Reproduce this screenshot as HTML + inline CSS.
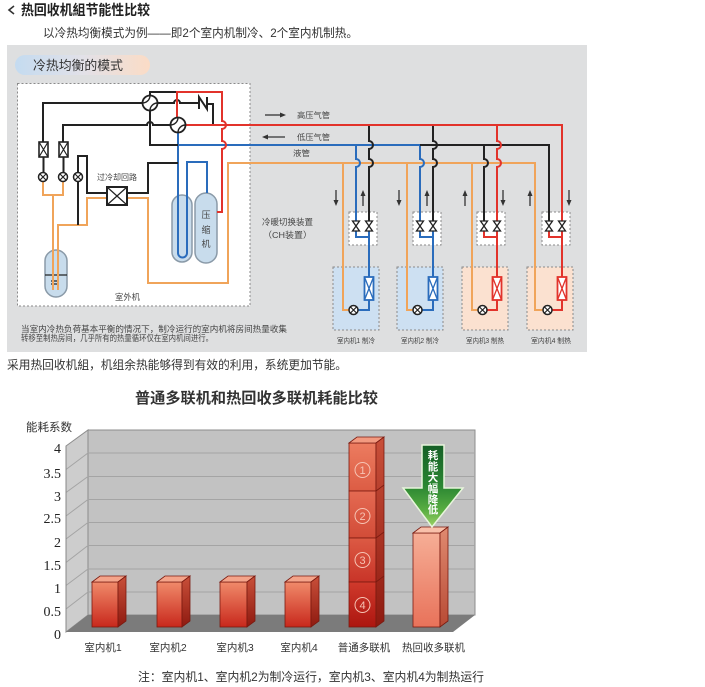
<!DOCTYPE html>
<html><head><meta charset="utf-8">
<style>
html,body{margin:0;padding:0;background:#fff;}
svg{display:block;}
text{font-family:"Liberation Sans","Noto Sans CJK SC",sans-serif;}
.serif text{font-family:"Liberation Serif","Noto Serif CJK SC",serif;}
</style></head><body>
<svg width="705" height="687" viewBox="0 0 705 687" xmlns="http://www.w3.org/2000/svg">
<defs>
 <linearGradient id="pill" x1="0" x2="1" y1="0" y2="0"><stop offset="0" stop-color="#c4dbf0"/><stop offset="0.5" stop-color="#e2e1e8"/><stop offset="1" stop-color="#fbdcc6"/></linearGradient>
 <linearGradient id="bf" x1="0" x2="0" y1="0" y2="1"><stop offset="0" stop-color="#f08a6a"/><stop offset="1" stop-color="#c8281c"/></linearGradient>
 <linearGradient id="bs" x1="0" x2="0" y1="0" y2="1"><stop offset="0" stop-color="#c9503a"/><stop offset="1" stop-color="#8e1a10"/></linearGradient>
 <linearGradient id="hf" x1="0" x2="0" y1="0" y2="1"><stop offset="0" stop-color="#f6ae96"/><stop offset="1" stop-color="#e8725a"/></linearGradient>
 <linearGradient id="hs" x1="0" x2="0" y1="0" y2="1"><stop offset="0" stop-color="#e08a70"/><stop offset="1" stop-color="#b84a34"/></linearGradient>
 <linearGradient id="s1" x1="0" x2="0" y1="0" y2="1"><stop offset="0" stop-color="#ec7c60"/><stop offset="1" stop-color="#dc5c44"/></linearGradient>
 <linearGradient id="s2" x1="0" x2="0" y1="0" y2="1"><stop offset="0" stop-color="#e46a52"/><stop offset="1" stop-color="#d24c38"/></linearGradient>
 <linearGradient id="s3" x1="0" x2="0" y1="0" y2="1"><stop offset="0" stop-color="#dc5a44"/><stop offset="1" stop-color="#c83428"/></linearGradient>
 <linearGradient id="s4" x1="0" x2="0" y1="0" y2="1"><stop offset="0" stop-color="#d03a2c"/><stop offset="1" stop-color="#ac1610"/></linearGradient>
 <linearGradient id="gr" x1="0" x2="0" y1="0" y2="1"><stop offset="0" stop-color="#155f26"/><stop offset="0.5" stop-color="#2a8632"/><stop offset="0.8" stop-color="#5aae42"/><stop offset="1" stop-color="#9cd266"/></linearGradient>
</defs>

<!-- header -->
<polyline points="14,6 9,10 14,14" fill="none" stroke="#333" stroke-width="1.6"/>
<text x="21" y="15" font-size="14" font-weight="bold" fill="#222" textLength="129" lengthAdjust="spacingAndGlyphs">热回收机組节能性比较</text>
<text x="43" y="37" font-size="12" fill="#333" textLength="315" lengthAdjust="spacingAndGlyphs">以冷热均衡模式为例——即2个室内机制冷、2个室内机制热。</text>

<!-- diagram background -->
<rect x="7" y="45" width="580" height="307" fill="#dedfe0"/>
<rect x="15" y="55" width="135" height="20" rx="10" fill="url(#pill)"/>
<text x="33" y="70" font-size="13" fill="#333" textLength="90" lengthAdjust="spacingAndGlyphs">冷热均衡的模式</text>

<rect x="17.5" y="83.5" width="232.5" height="222.5" fill="#fff" stroke="#8a8a8a" stroke-width="1" stroke-dasharray="2,2"/>

<!-- indoor boxes -->
<g stroke="#8a8a8a" stroke-width="1" stroke-dasharray="2,2">
 <rect x="333" y="267" width="46" height="63" fill="#cde0f2"/>
 <rect x="397" y="267" width="46" height="63" fill="#cde0f2"/>
 <rect x="462" y="267" width="46" height="63" fill="#fbe1d0"/>
 <rect x="527" y="267" width="46" height="63" fill="#fbe1d0"/>
 <rect x="349" y="212" width="28" height="33" fill="#fff"/>
 <rect x="413" y="212" width="28" height="33" fill="#fff"/>
 <rect x="477" y="212" width="28" height="33" fill="#fff"/>
 <rect x="542" y="212" width="28" height="33" fill="#fff"/>
</g>

<!-- tanks -->
<g fill="#c8dcec" stroke="#8a9aa8" stroke-width="1.5">
 <rect x="45" y="250" width="22" height="47" rx="11"/>
 <rect x="172" y="195" width="20" height="67" rx="10"/>
 <rect x="195" y="193" width="22" height="70" rx="11"/>
</g>
<path d="M45,275 H67 M51,281 H57 M51,284 H57" stroke="#222" stroke-width="1.3" fill="none"/>

<!-- orange pipes -->
<g fill="none" stroke="#f0a45a" stroke-width="2">
 <path d="M43,181.5 V195 H63 V181.5"/>
 <path d="M53,195 V290"/>
 <path d="M58,290 V225 H87 V198 H107"/>
 <path d="M127,198 H148 V283 H228 V163 H535 V310 H543"/>
 <path d="M343,163 V310 H349"/>
 <path d="M407,163 V310 H413"/>
 <path d="M472,163 V310 H478"/>
</g>

<!-- blue pipes -->
<g fill="none" stroke="#2a6cbc" stroke-width="2">
 <path d="M178,132.5 V253 a4.5,4.5 0 0 0 9,0 V162 H207 V193"/>
 <path d="M178,145 H420 V159 a4,4 0 0 1 0,8 V221"/>
 <path d="M356,145 V159 a4,4 0 0 1 0,8 V221"/>
 <path d="M356,231 V237 H369 M369,231 V277 M369,300 V310 H358"/>
 <path d="M420,231 V237 H433 M433,231 V277 M433,300 V310 H422"/>
</g>

<!-- black pipes -->
<g fill="none" stroke="#222" stroke-width="2">
 <path d="M43,142 V103 H142.5"/>
 <path d="M63,142 V125 H147 a3,3 0 0 1 6,0 H170.5"/>
 <path d="M150,110.5 V145 H178"/>
 <path d="M150,95.5 V92 H177"/>
 <path d="M157.5,103 H174 a3,3 0 0 1 6,0 H199"/>
 <path d="M199,109 V97 L207,109 V97"/>
 <path d="M207,104 H213 V125"/>
 <path d="M43.5,157 V172.5 M63.5,157 V172.5"/>
 <path d="M78,172.5 V156 H87 V193 H107"/>
 <path d="M78,181.5 V225"/>
 <path d="M127,193 H148 V163 H178"/>
 <path d="M369,125 V141 a4,4 0 0 1 0,8 V159 a4,4 0 0 1 0,8 V221"/>
 <path d="M433,125 V141 a4,4 0 0 1 0,8 V159 a4,4 0 0 1 0,8 V221"/>
 <path d="M420,145 H549 V221"/>
 <path d="M484,145 V159 a4,4 0 0 1 0,8 V221"/>
</g>

<!-- red pipes -->
<g fill="none" stroke="#e2332b" stroke-width="2">
 <path d="M177,117.5 V92 H222 V121 a4,4 0 0 1 0,8 V141 a4,4 0 0 1 0,8 V212 H217"/>
 <path d="M185.5,125 H562 V221"/>
 <path d="M497,125 V141 a4,4 0 0 1 0,8 V159 a4,4 0 0 1 0,8 V221"/>
 <path d="M484,231 V237 H497 M497,231 V277 M497,300 V310 H487"/>
 <path d="M549,231 V237 H562 M562,231 V277 M562,300 V310 H552"/>
</g>

<!-- coils outdoor -->
<g fill="#fff" stroke="#222" stroke-width="1.6">
 <rect x="39" y="142" width="9" height="15"/>
 <rect x="59" y="142" width="9" height="15"/>
 <rect x="107" y="187" width="20" height="18" stroke-width="2"/>
</g>
<path d="M39,142 L48,157 M48,142 L39,157 M59,142 L68,157 M68,142 L59,157 M107,187 L127,205 M127,187 L107,205" stroke="#222" stroke-width="1.2"/>

<!-- indoor coils -->
<g fill="#fff" stroke-width="1.8">
 <rect x="364.5" y="277" width="9" height="23" stroke="#2a6cbc"/>
 <rect x="428.5" y="277" width="9" height="23" stroke="#2a6cbc"/>
 <rect x="492.5" y="277" width="9" height="23" stroke="#e2332b"/>
 <rect x="557.5" y="277" width="9" height="23" stroke="#e2332b"/>
</g>
<path d="M364.5,277 L373.5,300 M373.5,277 L364.5,300 M428.5,277 L437.5,300 M437.5,277 L428.5,300" stroke="#2a6cbc" stroke-width="1.3"/>
<path d="M492.5,277 L501.5,300 M501.5,277 L492.5,300 M557.5,277 L566.5,300 M566.5,277 L557.5,300" stroke="#e2332b" stroke-width="1.3"/>

<!-- bowtie valves -->
<g fill="#fff" stroke="#222" stroke-width="1.3">
 <path d="M352.5,221 H359.5 L352.5,231 H359.5 Z"/><path d="M365.5,221 H372.5 L365.5,231 H372.5 Z"/>
 <path d="M416.5,221 H423.5 L416.5,231 H423.5 Z"/><path d="M429.5,221 H436.5 L429.5,231 H436.5 Z"/>
 <path d="M480.5,221 H487.5 L480.5,231 H487.5 Z"/><path d="M493.5,221 H500.5 L493.5,231 H500.5 Z"/>
 <path d="M545.5,221 H552.5 L545.5,231 H552.5 Z"/><path d="M558.5,221 H565.5 L558.5,231 H565.5 Z"/>
</g>

<!-- 4-way valves -->
<g fill="#fff" stroke="#222" stroke-width="1.8">
 <circle cx="150" cy="103" r="7.5"/>
 <circle cx="178" cy="125" r="7.5"/>
</g>
<path d="M142.5,103 A7.5,7.5 0 0 0 150,95.5 M150,110.5 A7.5,7.5 0 0 1 157.5,103 M170.5,125 A7.5,7.5 0 0 0 178,117.5 M178,132.5 A7.5,7.5 0 0 1 185.5,125" fill="none" stroke="#222" stroke-width="1.4"/>

<!-- expansion valves -->
<g fill="#fff" stroke="#222" stroke-width="1.5">
 <circle cx="43" cy="177" r="4.5"/><circle cx="63" cy="177" r="4.5"/><circle cx="78" cy="177" r="4.5"/>
 <circle cx="353.5" cy="310" r="4.5"/><circle cx="417.5" cy="310" r="4.5"/><circle cx="482.5" cy="310" r="4.5"/><circle cx="547.5" cy="310" r="4.5"/>
</g>
<path d="M40,174 L46,180 M46,174 L40,180 M60,174 L66,180 M66,174 L60,180 M75,174 L81,180 M81,174 L75,180
M350.5,307 L356.5,313 M356.5,307 L350.5,313 M414.5,307 L420.5,313 M420.5,307 L414.5,313 M479.5,307 L485.5,313 M485.5,307 L479.5,313 M544.5,307 L550.5,313 M550.5,307 L544.5,313" stroke="#222" stroke-width="1.2"/>

<!-- flow arrows -->
<g stroke="#333" stroke-width="1.3" fill="#333">
 <line x1="265" y1="115" x2="280" y2="115"/><path d="M280,112.5 L286,115 L280,117.5 Z" stroke="none"/>
 <line x1="268" y1="137" x2="285" y2="137"/><path d="M268,134.5 L262,137 L268,139.5 Z" stroke="none"/>
 <line x1="336" y1="190" x2="336" y2="201"/><path d="M333.5,200 L338.5,200 L336,206 Z" stroke="none"/>
 <line x1="363" y1="195" x2="363" y2="206"/><path d="M360.5,196 L365.5,196 L363,190 Z" stroke="none"/>
 <line x1="399" y1="190" x2="399" y2="201"/><path d="M396.5,200 L401.5,200 L399,206 Z" stroke="none"/>
 <line x1="427" y1="195" x2="427" y2="206"/><path d="M424.5,196 L429.5,196 L427,190 Z" stroke="none"/>
 <line x1="465" y1="195" x2="465" y2="206"/><path d="M462.5,196 L467.5,196 L465,190 Z" stroke="none"/>
 <line x1="503" y1="190" x2="503" y2="201"/><path d="M500.5,200 L505.5,200 L503,206 Z" stroke="none"/>
 <line x1="530" y1="195" x2="530" y2="206"/><path d="M527.5,196 L532.5,196 L530,190 Z" stroke="none"/>
 <line x1="569" y1="190" x2="569" y2="201"/><path d="M566.5,200 L571.5,200 L569,206 Z" stroke="none"/>
</g>

<!-- diagram labels -->
<g fill="#444">
 <text x="297" y="118" font-size="8" textLength="33" lengthAdjust="spacingAndGlyphs">高压气管</text>
 <text x="297" y="140" font-size="8" textLength="33" lengthAdjust="spacingAndGlyphs">低压气管</text>
 <text x="293" y="156" font-size="8" textLength="17" lengthAdjust="spacingAndGlyphs">液管</text>
 <text x="262" y="225" font-size="8.5" textLength="51" lengthAdjust="spacingAndGlyphs">冷暖切换装置</text>
 <text x="263" y="238" font-size="8.5" textLength="49" lengthAdjust="spacingAndGlyphs">（CH装置）</text>
 <text x="97" y="180" font-size="8" textLength="40" lengthAdjust="spacingAndGlyphs">过冷却回路</text>
 <text x="115" y="300" font-size="8.3" textLength="25" lengthAdjust="spacingAndGlyphs">室外机</text>
 <text x="206" y="218" font-size="9" text-anchor="middle">压</text>
 <text x="206" y="233" font-size="9" text-anchor="middle">缩</text>
 <text x="206" y="247" font-size="9" text-anchor="middle">机</text>
 <text x="21" y="332" font-size="8.3" textLength="266" lengthAdjust="spacingAndGlyphs">当室内冷热负荷基本平衡的情况下，制冷运行的室内机将房间热量收集</text>
 <text x="21" y="341" font-size="8.3" textLength="192" lengthAdjust="spacingAndGlyphs">转移至制热房间，几乎所有的热量循环仅在室内机间进行。</text>
 <text x="337" y="343" font-size="7" textLength="38" lengthAdjust="spacingAndGlyphs">室内机1 制冷</text>
 <text x="401" y="343" font-size="7" textLength="38" lengthAdjust="spacingAndGlyphs">室内机2 制冷</text>
 <text x="466" y="343" font-size="7" textLength="38" lengthAdjust="spacingAndGlyphs">室内机3 制热</text>
 <text x="531" y="343" font-size="7" textLength="40" lengthAdjust="spacingAndGlyphs">室内机4 制热</text>
</g>

<!-- text between -->
<text x="7" y="369" font-size="12" fill="#333" textLength="340" lengthAdjust="spacingAndGlyphs">采用热回收机組，机组余热能够得到有效的利用，系统更加节能。</text>

<!-- chart -->
<text x="135" y="403" font-size="15" font-weight="bold" fill="#333" textLength="243" lengthAdjust="spacingAndGlyphs">普通多联机和热回收多联机耗能比较</text>
<text x="26" y="431" font-size="11.5" fill="#333" textLength="46" lengthAdjust="spacingAndGlyphs">能耗系数</text>

<polygon points="66,446 88,430 88,615 66,632" fill="#cdcdcd" stroke="#8c8c8c" stroke-width="1"/>
<rect x="88" y="430" width="387" height="185" fill="#c2c2c2" stroke="#8c8c8c" stroke-width="1"/>
<g stroke="#a4a4a4" stroke-width="1" fill="none">
 <path d="M66,469.5 L88,453 H475"/>
 <path d="M66,492.5 L88,476.5 H475"/>
 <path d="M66,516 L88,499.5 H475"/>
 <path d="M66,539 L88,522.5 H475"/>
 <path d="M66,562.5 L88,545.5 H475"/>
 <path d="M66,585.5 L88,569 H475"/>
 <path d="M66,609 L88,592 H475"/>
</g>
<polygon points="66,632 453,632 475,615 88,615" fill="#7b7b7b"/>
<line x1="66" y1="446" x2="66" y2="632" stroke="#888" stroke-width="1"/>

<g class="serif" font-size="14" fill="#222" text-anchor="end">
 <text x="61" y="453">4</text>
 <text x="61" y="478">3.5</text>
 <text x="61" y="501">3</text>
 <text x="61" y="523">2.5</text>
 <text x="61" y="547">2</text>
 <text x="61" y="570">1.5</text>
 <text x="61" y="593">1</text>
 <text x="61" y="616">0.5</text>
 <text x="61" y="639">0</text>
</g>

<!-- small bars -->
<g stroke="#7a1a10" stroke-width="0.8">
 <rect x="92" y="582" width="26" height="45" fill="url(#bf)"/>
 <polygon points="92,582 100,576 126,576 118,582" fill="#f4a48a"/>
 <polygon points="118,582 126,576 126,621 118,627" fill="url(#bs)"/>
 <rect x="157" y="582" width="25" height="45" fill="url(#bf)"/>
 <polygon points="157,582 165,576 190,576 182,582" fill="#f4a48a"/>
 <polygon points="182,582 190,576 190,621 182,627" fill="url(#bs)"/>
 <rect x="220" y="582" width="27" height="45" fill="url(#bf)"/>
 <polygon points="220,582 228,576 255,576 247,582" fill="#f4a48a"/>
 <polygon points="247,582 255,576 255,621 247,627" fill="url(#bs)"/>
 <rect x="285" y="582" width="26" height="45" fill="url(#bf)"/>
 <polygon points="285,582 293,576 319,576 311,582" fill="#f4a48a"/>
 <polygon points="311,582 319,576 319,621 311,627" fill="url(#bs)"/>
 <!-- normal bar -->
 <rect x="349" y="443" width="27" height="48" fill="url(#s1)"/>
 <rect x="349" y="491" width="27" height="47" fill="url(#s2)"/>
 <rect x="349" y="538" width="27" height="44" fill="url(#s3)"/>
 <rect x="349" y="582" width="27" height="45" fill="url(#s4)"/>
 <polygon points="349,443 357,437 384,437 376,443" fill="#f29a80"/>
 <polygon points="376,443 384,437 384,621 376,627" fill="url(#bs)"/>
 <path d="M376,491 L384,485 M376,538 L384,532 M376,582 L384,576" fill="none"/>
 <!-- HR bar -->
 <rect x="413" y="533" width="27" height="94" fill="url(#hf)"/>
 <polygon points="413,533 421,527 448,527 440,533" fill="#f8c0aa"/>
 <polygon points="440,533 448,527 448,621 440,627" fill="url(#hs)"/>
</g>
<g fill="none" stroke="#f6c4b4" stroke-width="1">
 <circle cx="362.5" cy="470" r="7.5"/>
 <circle cx="362.5" cy="516" r="7.5"/>
 <circle cx="362.5" cy="560" r="7.5"/>
 <circle cx="362.5" cy="605" r="7.5"/>
</g>
<g fill="#f6c4b4" font-size="11" text-anchor="middle">
 <text x="362.5" y="474">1</text>
 <text x="362.5" y="520">2</text>
 <text x="362.5" y="564">3</text>
 <text x="362.5" y="609">4</text>
</g>

<!-- green arrow -->
<polygon points="422,445 444,445 444,488 463,488 432,527 403,488 422,488" fill="url(#gr)" stroke="#e8f5dc" stroke-width="1.5"/>
<g fill="#fff" font-size="10.5" font-weight="bold" text-anchor="middle">
 <text x="433" y="459">耗</text>
 <text x="433" y="470">能</text>
 <text x="433" y="481">大</text>
 <text x="433" y="492">幅</text>
 <text x="433" y="503">降</text>
 <text x="433" y="513">低</text>
</g>

<!-- category labels -->
<g fill="#333" font-size="10.5" text-anchor="middle">
 <text x="103" y="651">室内机1</text>
 <text x="168" y="651">室内机2</text>
 <text x="235" y="651">室内机3</text>
 <text x="299" y="651">室内机4</text>
 <text x="364" y="651">普通多联机</text>
 <text x="433.5" y="651">热回收多联机</text>
</g>

<text x="138" y="681" font-size="12" fill="#333" textLength="346" lengthAdjust="spacingAndGlyphs">注：室内机1、室内机2为制冷运行，室内机3、室内机4为制热运行</text>
</svg>
</body></html>
